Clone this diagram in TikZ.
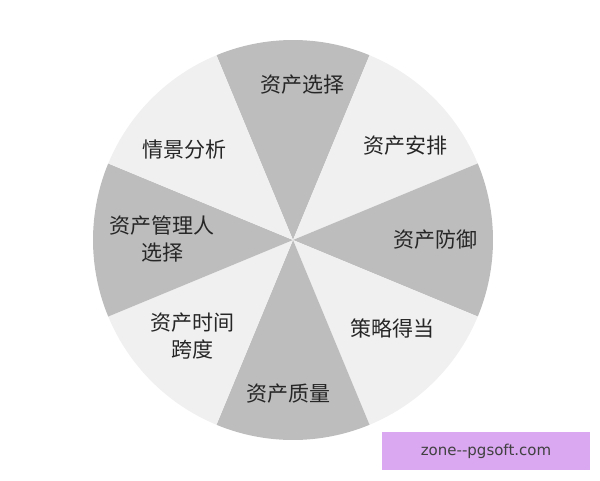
\documentclass[tikz,border=0pt]{standalone}
\usepackage{fontspec}
\newfontfamily\cjk{Noto Sans CJK SC}
\begin{document}
\begin{tikzpicture}[x=1pt,y=-1pt,
  dark/.style={fill=black!26},
  light/.style={fill=black!6},
  lab/.style={font=\cjk\fontsize{21}{27}\selectfont,align=center,text=black!85}]
\useasboundingbox (0,0) rectangle (600,480);
\coordinate (c) at (293,240);
\foreach \a/\s in {90/dark,45/light,0/dark,-45/light,-90/dark,-135/light,180/dark,135/light}{
  \fill[\s] (c) -- ++({\a-22.5}:200 and -200) arc[start angle={\a-22.5},end angle={\a+22.5},x radius=200,y radius=-200] -- cycle;
}
\node[lab] (n1) at (302,85) {资产选择};
\node[lab] (n2) at (405,146) {资产安排};
\node[lab] (n3) at (435,240) {资产防御};
\node[lab] (n4) at (392,328) {策略得当};
\node[lab] (n5) at (288,394) {资产质量};
\node[lab] (n6) at (192,336) {资产时间\\跨度};
\node[lab] (n7) at (162,239) {资产管理人\\选择};
\node[lab] (n8) at (184,150) {情景分析};
\node[fill={rgb,255:red,217;green,168;blue,240},minimum width=208,minimum height=38,inner sep=0,
  font=\fontspec{DejaVu Sans}\fontsize{15}{18}\selectfont,text=black!75] (wm) at (486,451) {zone--pgsoft.com};
\end{tikzpicture}
\end{document}
